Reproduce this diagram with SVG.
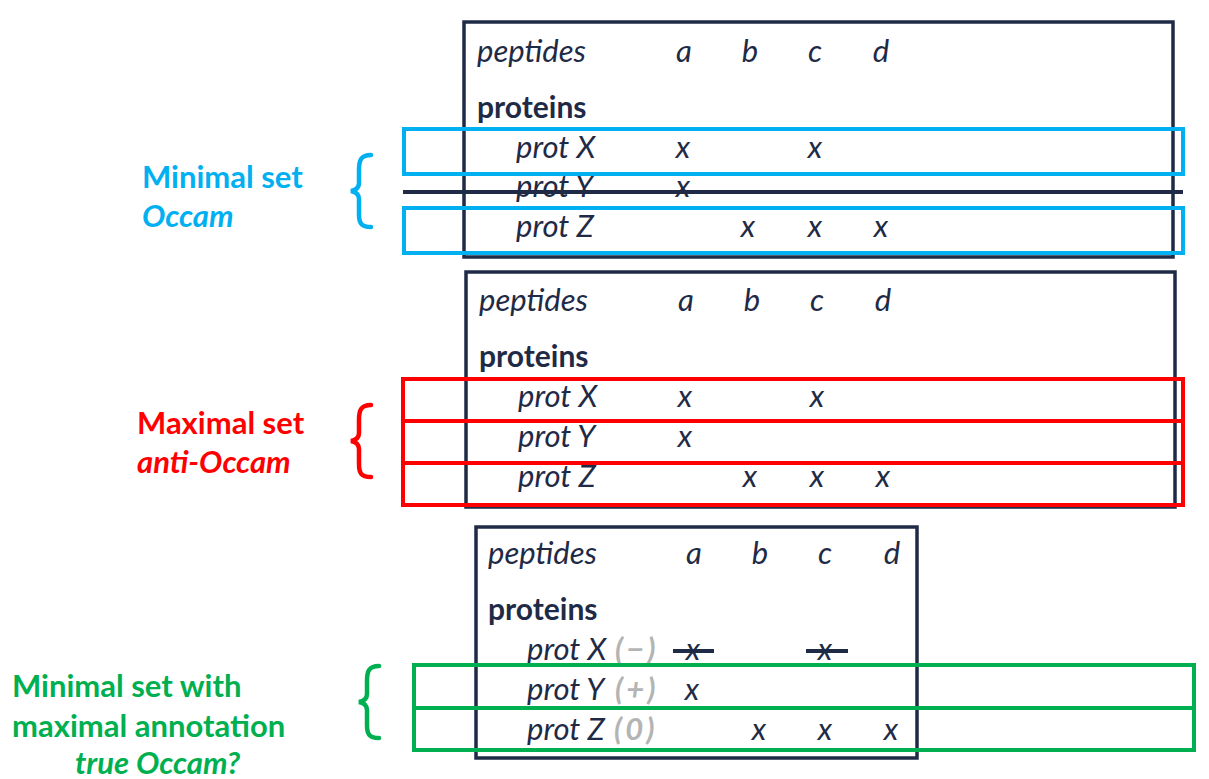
<svg xmlns="http://www.w3.org/2000/svg" width="1209" height="779" viewBox="0 0 1209 779">
<style>
text{font-family:Lato,"Open Sans","Liberation Sans",sans-serif;fill:#1f2b46}
.it{font-style:italic;font-size:31px}
.b{font-weight:bold;font-size:30px}
.g{fill:#b4b4b4;font-style:italic;font-size:31px;font-weight:bold;letter-spacing:3px}
.frame{fill:none;stroke:#1f2b46;stroke-width:3.5}
.blue{fill:none;stroke:#00b0f0;stroke-width:4}
.red{fill:none;stroke:#ff0000;stroke-width:4}
.green{fill:none;stroke:#00b050;stroke-width:4}
.lab{font-weight:bold;font-size:31px}
.brace{fill:none;stroke-width:4.5;stroke-linecap:round}
.mid{text-anchor:middle}
</style>
<rect width="1209" height="779" fill="#fff"/>

<g id="table1">
<rect class="frame" x="464" y="22" width="709" height="235"/>
<text class="it" x="477" y="62">peptides</text>
<text class="it mid" x="684" y="62">a</text>
<text class="it mid" x="750" y="62">b</text>
<text class="it mid" x="815" y="62">c</text>
<text class="it mid" x="881" y="62">d</text>
<text class="b" x="477" y="118">proteins</text>
<text class="it" x="516" y="158">prot X</text>
<text class="it mid" x="683" y="158">x</text>
<text class="it mid" x="815" y="158">x</text>
<text class="it" x="516" y="197">prot Y</text>
<text class="it mid" x="683" y="197">x</text>
<text class="it" x="516" y="237">prot Z</text>
<text class="it mid" x="748" y="237">x</text>
<text class="it mid" x="815" y="237">x</text>
<text class="it mid" x="881" y="237">x</text>
</g>

<g id="table2">
<rect class="frame" x="466" y="272" width="709" height="235"/>
<text class="it" x="479" y="311">peptides</text>
<text class="it mid" x="686" y="311">a</text>
<text class="it mid" x="752" y="311">b</text>
<text class="it mid" x="817" y="311">c</text>
<text class="it mid" x="883" y="311">d</text>
<text class="b" x="479" y="367">proteins</text>
<text class="it" x="518" y="407">prot X</text>
<text class="it mid" x="685" y="407">x</text>
<text class="it mid" x="817" y="407">x</text>
<text class="it" x="518" y="447">prot Y</text>
<text class="it mid" x="685" y="447">x</text>
<text class="it" x="518" y="487">prot Z</text>
<text class="it mid" x="750" y="487">x</text>
<text class="it mid" x="817" y="487">x</text>
<text class="it mid" x="883" y="487">x</text>
</g>

<g id="table3">
<rect class="frame" x="476" y="527" width="441" height="231"/>
<text class="it" x="488" y="564">peptides</text>
<text class="it mid" x="694" y="564">a</text>
<text class="it mid" x="760" y="564">b</text>
<text class="it mid" x="825" y="564">c</text>
<text class="it mid" x="892" y="564">d</text>
<text class="b" x="488" y="620">proteins</text>
<text class="it" x="527" y="660">prot X</text>
<text class="g" x="615" y="660">(−)</text>
<text class="it mid" x="693" y="660">x</text>
<text class="it mid" x="825" y="660">x</text>
<text class="it" x="527" y="700">prot Y</text>
<text class="g" x="615" y="700">(+)</text>
<text class="it mid" x="692" y="700">x</text>
<text class="it" x="527" y="740">prot Z</text>
<text class="g" x="614" y="740">(0)</text>
<text class="it mid" x="759" y="740">x</text>
<text class="it mid" x="825" y="740">x</text>
<text class="it mid" x="891" y="740">x</text>
<line x1="673" y1="651" x2="714" y2="651" stroke="#1f2b46" stroke-width="4"/>
<line x1="806" y1="651" x2="848" y2="651" stroke="#1f2b46" stroke-width="4"/>
</g>

<g id="minimal">
<line x1="403" y1="192" x2="1183" y2="192" stroke="#1f2b46" stroke-width="4"/>
<rect class="blue" x="404" y="129" width="779" height="45"/>
<rect class="blue" x="404" y="208" width="779" height="45"/>
<path class="brace" stroke="#00b0f0" d="M371,155 C361,155 359,160 359,170 L359,183 C359,188 356,190 351,191 C356,192 359,194 359,199 L359,214 C359,223 361,227 371,227"/>
<text class="lab" x="142" y="188" style="fill:#00b0f0">Minimal set</text>
<text class="lab" x="142" y="227" style="fill:#00b0f0;font-style:italic">Occam</text>
</g>

<g id="maximal">
<rect class="red" x="403" y="379" width="780" height="42"/>
<rect class="red" x="403" y="421" width="780" height="42"/>
<rect class="red" x="403" y="463" width="780" height="42"/>
<path class="brace" stroke="#ff0000" d="M371,405 C361,405 359,410 359,420 L359,433 C359,438 356,440 351,441 C356,442 359,444 359,449 L359,464 C359,473 361,477 371,477"/>
<text class="lab" x="137" y="434" style="fill:#ff0000">Maximal set</text>
<text class="lab" x="137" y="473" style="fill:#ff0000;font-style:italic">anti-Occam</text>
</g>

<g id="true">
<rect class="green" x="414" y="665" width="780" height="43"/>
<rect class="green" x="414" y="708" width="780" height="42"/>
<path class="brace" stroke="#00b050" d="M379,666 C369,666 367,671 367,681 L367,694 C367,699 364,701 359,702 C364,703 367,705 367,710 L367,725 C367,734 369,738 379,738"/>
<text class="lab" x="12" y="697" style="fill:#00b050">Minimal set with</text>
<text class="lab" x="12" y="737" style="fill:#00b050">maximal annotation</text>
<text class="lab" x="75" y="774" style="fill:#00b050;font-style:italic">true Occam?</text>
</g>
</svg>
